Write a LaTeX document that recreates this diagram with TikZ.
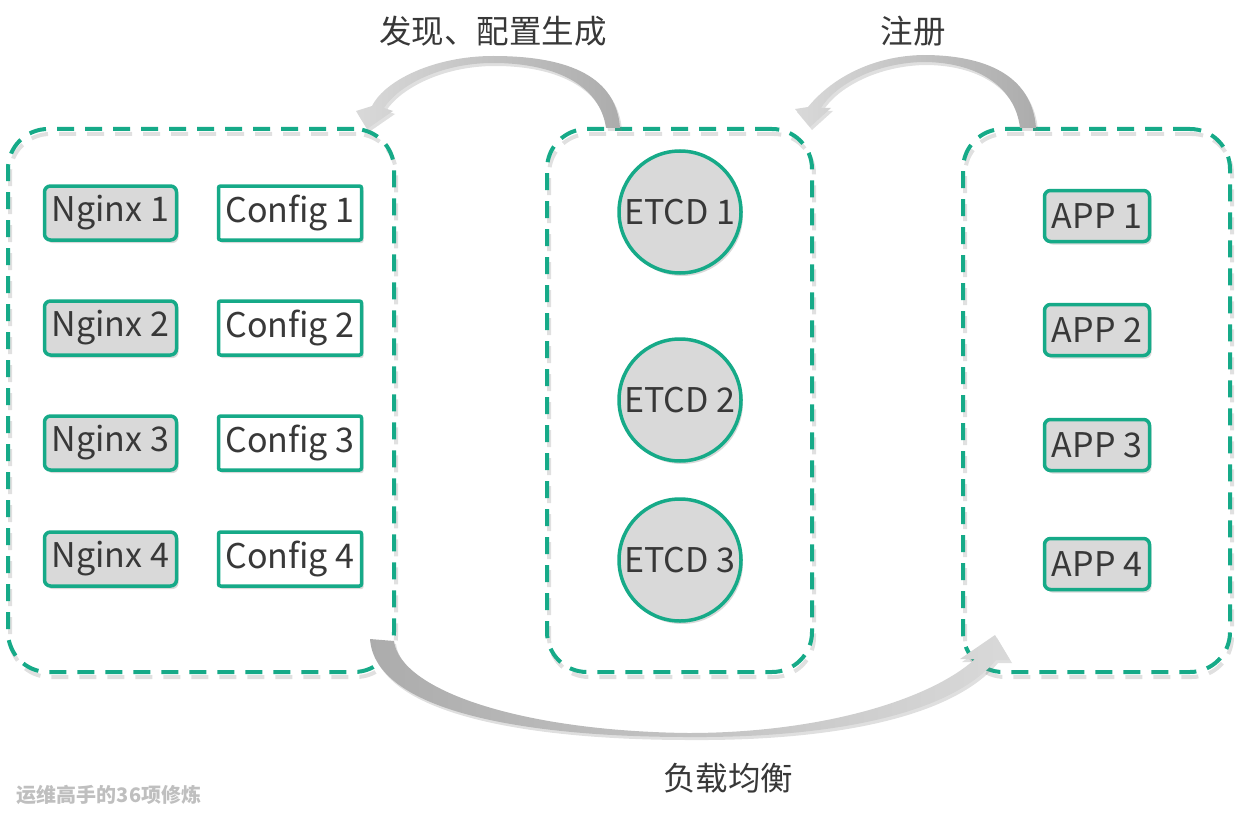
\documentclass[tikz,border=0pt]{standalone}
\usepackage{fontspec}
\setmainfont{Noto Sans CJK SC}
\usepackage{tikz}
\usetikzlibrary{shapes,positioning,shadows}
\definecolor{lineteal}{RGB}{22,170,136}
\definecolor{boxgray}{RGB}{217,217,217}
\definecolor{txtgray}{RGB}{56,56,56}

\begin{document}
\begin{tikzpicture}[x=1pt,y=-1pt,
  every node/.style={text=txtgray, inner sep=0pt, font=\fontsize{34}{40}\selectfont},
  grpbox/.style={draw=lineteal, line width=4pt, dash pattern=on 17pt off 11pt, rounded corners=40pt,
    minimum width=#1, minimum height=543pt,
    preaction={draw=black, opacity=0.12, line width=4pt, dash pattern=on 17pt off 11pt, transform canvas={xshift=2pt,yshift=-5pt}}},
  nodeshadow/.style={drop shadow={opacity=0.3, shadow xshift=2pt, shadow yshift=-3pt}},
  nginxbox/.style={draw=lineteal, line width=3.5pt, fill=boxgray, rounded corners=6pt, minimum width=132pt, minimum height=54pt, nodeshadow},
  configbox/.style={draw=lineteal, line width=3.5pt, fill=white, rounded corners=2pt, minimum width=143pt, minimum height=54pt, nodeshadow},
  appbox/.style={draw=lineteal, line width=3.5pt, fill=boxgray, rounded corners=6pt, minimum width=105pt, minimum height=51pt, nodeshadow},
  etcdnode/.style={circle, draw=lineteal, line width=3.5pt, fill=boxgray, minimum size=122pt, nodeshadow},
  toplabel/.style={font=\fontsize{32.5}{38}\selectfont},
  bigarrow/.style={drop shadow={opacity=0.25, shadow xshift=2pt, shadow yshift=-3pt}}]
\useasboundingbox (0,0) rectangle (1246,821);

\node [grpbox=386pt] (nginxgrp) at (201,400.5) {};
\node [grpbox=265pt] (etcdgrp) at (679.5,400.5) {};
\node [grpbox=267pt] (appgrp) at (1096.5,400.5) {};

\node [nginxbox] (nginx1) at (110.5,213) {Nginx 1};
\node [nginxbox] (nginx2) at (110.5,328) {Nginx 2};
\node [nginxbox] (nginx3) at (110.5,443) {Nginx 3};
\node [nginxbox] (nginx4) at (110.5,559) {Nginx 4};
\node [configbox] (config1) at (290,213) {Config 1};
\node [configbox] (config2) at (290,328) {Config 2};
\node [configbox] (config3) at (290,443) {Config 3};
\node [configbox] (config4) at (290,559) {Config 4};

\node [etcdnode] (etcd1) at (680,212) {ETCD 1};
\node [etcdnode] (etcd2) at (680,400) {ETCD 2};
\node [etcdnode] (etcd3) at (680,560) {ETCD 3};

\node [appbox] (app1) at (1097,216) {APP 1};
\node [appbox] (app2) at (1097,330) {APP 2};
\node [appbox] (app3) at (1097,445) {APP 3};
\node [appbox] (app4) at (1097,564) {APP 4};

% arrow tips and tails
\coordinate (genTail) at (620,128);
\coordinate (genTip) at (367,129);
\coordinate (regTail) at (1036,128);
\coordinate (regTip) at (810,127);
\coordinate (lbTail) at (370,639);
\coordinate (lbTip) at (995,635);

\path [bigarrow, left color=gray!30, middle color=gray!12, right color=gray!65]
  (606,128) -- (genTail) .. controls (616,72) and (560,56) .. (493,56) .. controls (435,56) and (385,80) .. (372,106)
  -- (356,111) -- (genTip) -- (393,111) -- (384,108) .. controls (398,86) and (440,63) .. (493,63)
  .. controls (555,63) and (600,85) .. (606,128) -- cycle;
\path [bigarrow, left color=gray!30, middle color=gray!12, right color=gray!65]
  (1020,128) -- (regTail) .. controls (1032,75) and (985,55) .. (923,55) .. controls (870,56) and (830,80) .. (808,107)
  -- (795,109) -- (regTip) -- (831,108) -- (821,108) .. controls (835,85) and (875,63) .. (923,62)
  .. controls (975,62) and (1015,85) .. (1020,128) -- cycle;
\path [bigarrow, left color=gray!65, middle color=gray!10, right color=gray!30]
  (lbTail) -- (394,641) .. controls (400,690) and (520,731) .. (688,733) .. controls (820,733) and (930,700) .. (975,659)
  -- (960,659) -- (lbTip) -- (1010,660) -- (996,660) .. controls (950,715) and (830,738) .. (688,737)
  .. controls (520,737) and (375,710) .. (lbTail) -- cycle;

\node [toplabel] (genlabel) at (493,31) {发现、配置生成};
\node [toplabel] (reglabel) at (913,31) {注册};
\node [toplabel] (lblabel) at (728,778) {负载均衡};
\node [text=gray!50, font=\fontsize{20}{24}\selectfont\bfseries] (mark) at (109,795) {运维高手的36项修炼};

\end{tikzpicture}
\end{document}
